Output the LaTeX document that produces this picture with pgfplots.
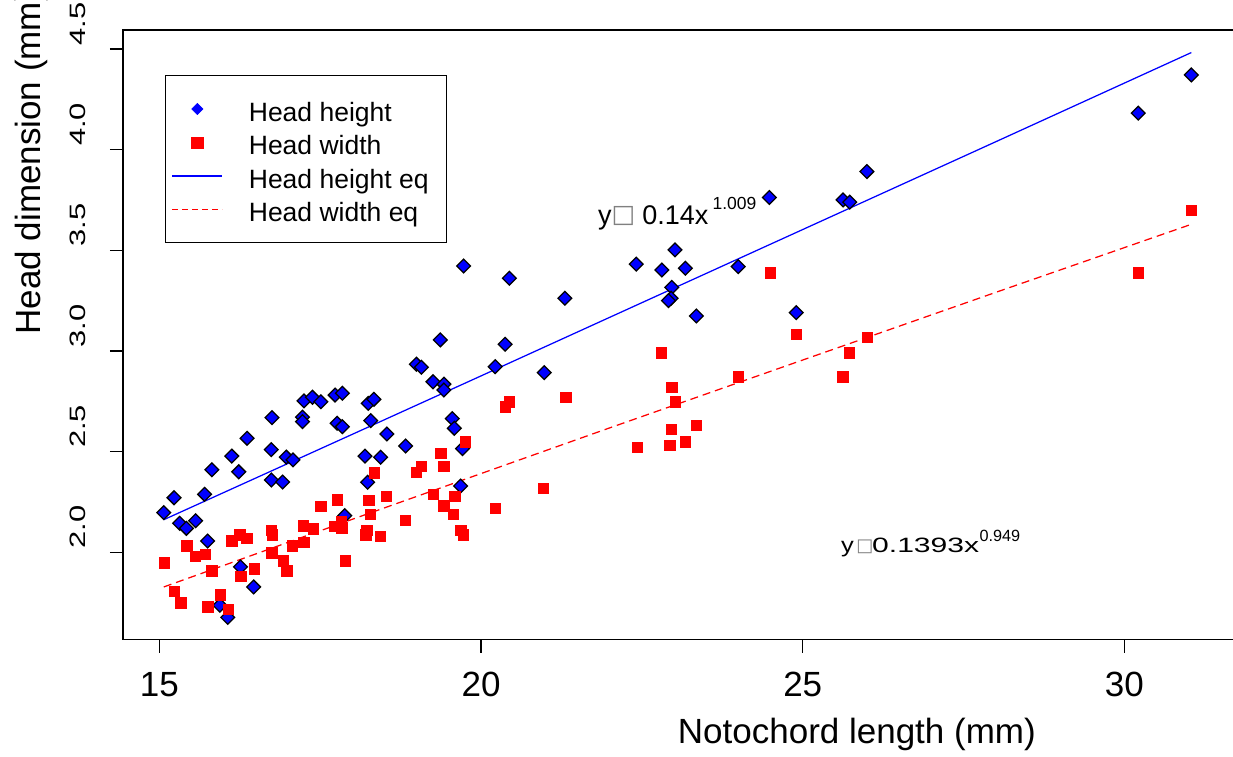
\documentclass[border=0pt]{standalone}
\usepackage{fontspec}
\setmainfont{Liberation Sans}
\newfontfamily\dejavu{DejaVu Sans}
\usepackage{pgfplots}
\usepackage{pgfplotstable}
\pgfplotsset{compat=1.18}

\pgfplotstableread{
x y
15.070 2.197
15.229 2.271
15.317 2.144
15.421 2.119
15.565 2.157
15.704 2.288
15.751 2.056
15.817 2.410
15.941 1.737
16.065 1.677
16.127 2.478
16.235 2.400
16.262 1.928
16.365 2.566
16.467 1.828
16.752 2.669
16.741 2.510
16.741 2.359
16.916 2.349
16.974 2.473
17.077 2.459
17.226 2.671
17.226 2.649
17.248 2.752
17.381 2.770
17.511 2.748
17.732 2.781
17.845 2.790
17.763 2.641
17.845 2.624
17.882 2.182
18.248 2.740
18.336 2.760
18.285 2.654
18.197 2.478
18.238 2.348
18.440 2.472
18.537 2.588
18.827 2.528
18.997 2.934
19.074 2.919
19.254 2.847
19.368 3.055
19.424 2.835
19.424 2.806
19.554 2.664
19.585 2.616
19.714 2.515
19.683 2.329
19.729 3.422
20.220 2.922
20.375 3.033
20.441 3.361
20.983 2.892
21.303 3.262
22.412 3.431
22.810 3.402
23.015 3.502
23.176 3.411
22.964 3.316
22.954 3.262
22.913 3.250
23.347 3.174
23.997 3.419
24.482 3.762
24.899 3.190
25.627 3.750
25.731 3.739
25.998 3.891
30.214 4.181
31.040 4.371
}\heightdata

\pgfplotstableread{
x y
15.074 1.948
15.229 1.808
15.328 1.751
15.421 2.033
15.557 1.982
15.709 1.990
15.813 1.909
15.755 1.730
15.944 1.791
16.068 1.718
16.127 2.059
16.251 2.088
16.359 2.070
16.265 1.881
16.474 1.919
16.737 2.111
16.754 2.089
16.746 1.999
16.924 1.959
16.981 1.909
17.063 2.034
17.232 2.132
17.240 2.050
17.392 2.117
17.508 2.230
17.763 2.261
17.724 2.131
17.836 2.123
17.825 2.152
17.887 1.958
18.336 2.396
18.251 2.260
18.279 2.189
18.220 2.111
18.209 2.088
18.429 2.081
18.529 2.279
18.820 2.160
18.994 2.397
19.071 2.429
19.373 2.492
19.420 2.429
19.252 2.289
19.416 2.231
19.590 2.280
19.563 2.189
19.687 2.111
19.724 2.089
19.755 2.549
20.220 2.219
20.375 2.723
20.438 2.748
20.967 2.319
21.313 2.770
22.427 2.522
22.799 2.992
22.964 2.820
23.015 2.748
22.954 2.611
22.929 2.533
23.170 2.549
23.347 2.632
23.997 2.872
24.492 3.389
24.895 3.083
25.622 2.872
25.724 2.992
25.998 3.068
30.214 3.389
31.040 3.700
}\widthdata

\begin{document}
\begin{tikzpicture}
\begin{axis}[
  name=ax, at={(0,0)}, anchor=south west,
  scale only axis, width=446.8pt, height=243.8pt,
  xmin=14.436, xmax=31.796, ymin=1.567, ymax=4.594,
  axis line style={line width=0.6pt},
  xtick={15,20,25,30}, xticklabels={15,20,25,30},
  ytick={2,2.5,3,3.5,4,4.5}, yticklabels={2.0,2.5,3.0,3.5,4.0,4.5},
  xtick pos=bottom, ytick pos=left,
  tick align=outside, major tick length=5.2pt,
  tick style={line width=0.5pt, black},
  xticklabel style={yshift=-17.4pt, font=\fontsize{14}{14}\selectfont, anchor=base, inner sep=0pt},
  yticklabel style={xshift=-9.6pt, yshift=1.2pt, font=\fontsize{8.9}{9}\selectfont, anchor=base west, rotate=90, xscale=1.39, inner sep=0pt},
  every axis x label/.style={at={(axis description cs:0.657,-0.1703)}, anchor=base, inner sep=0pt, font=\fontsize{14}{14}\selectfont},
  every axis y label/.style={at={(axis description cs:-0.0743,0.4996)}, rotate=90, anchor=base west, inner sep=0pt, font=\fontsize{14}{14}\selectfont},
  xlabel={Notochord length (mm)},
  ylabel={Head dimension (mm)},
  legend cell align=left,
  legend style={at={(rel axis cs:0.0376,0.9262)}, anchor=north west, draw=black, line width=0.5pt, fill=white,
    inner xsep=7.2pt, inner ysep=6.65pt, row sep=0pt, column sep=0pt,
    font=\fontsize{10.6}{12}\selectfont,
    nodes={inner sep=0pt, text height=11.7pt, text depth=1.7pt}},
]
\addplot[only marks, mark=square*, mark size=1.95pt,
  mark options={rotate=45, fill=blue, draw=black, line width=0.5pt}, forget plot]
  table[x=x, y=y] {\heightdata};
\addplot[only marks, mark=square*, mark size=2.1pt,
  mark options={fill=red, draw=red, line width=0.1pt}, forget plot]
  table[x=x, y=y] {\widthdata};
\addplot[blue, line width=0.5pt, forget plot] coordinates {
  (15.07,2.162) (18,2.586) (20,2.876) (22,3.167) (25,3.603) (28,4.039) (31.04,4.482)};
\addplot[red, line width=0.5pt, dash pattern=on 3.2pt off 2pt, forget plot] coordinates {
  (15.07,1.828) (18,2.164) (20,2.391) (22,2.618) (25,2.955) (28,3.291) (31.04,3.629)};

\addlegendimage{legend image code/.code={
  \path[draw=none, fill=none] (0pt,-2pt) rectangle (26.1pt,2pt);
  \path[draw=blue, fill=blue, line width=0.2pt] plot[mark=square*, mark size=1.6pt, mark options={rotate=45, draw=blue, fill=blue}] coordinates {(5.5pt,0pt)};}}
\addlegendentry{Head height}
\addlegendimage{legend image code/.code={
  \path[draw=none, fill=none] (0pt,-2pt) rectangle (26.1pt,2pt);
  \path[draw=red, fill=red, line width=0.1pt] plot[mark=square*, mark size=2.3pt, mark options={draw=red, fill=red}] coordinates {(5.5pt,0pt)};}}
\addlegendentry{Head width}
\addlegendimage{legend image code/.code={
  \path[draw=none, fill=none] (0pt,-2pt) rectangle (26.1pt,2pt);
  \path[draw=blue, line width=0.5pt, overlay] (-4.5pt,0pt) -- (15.5pt,0pt);}}
\addlegendentry{Head height eq}
\addlegendimage{legend image code/.code={
  \path[draw=none, fill=none] (0pt,-2pt) rectangle (26.1pt,2pt);
  \path[draw=red, line width=0.65pt, dash pattern=on 2.4pt off 1.6pt, overlay] (-4.5pt,0pt) -- (15.5pt,0pt);}}
\addlegendentry{Head width eq}

\node[anchor=base west, inner sep=0pt, font=\fontsize{10.8}{12}\selectfont] at (axis cs:21.811,3.626) {y};
\node[inner sep=0pt, text=gray, font=\dejavu\fontsize{10}{10}\selectfont] at (axis cs:22.214,3.671) {□};
\node[anchor=base west, inner sep=0pt, font=\fontsize{10.8}{12}\selectfont] at (axis cs:22.500,3.626) {0.14x};
\node[anchor=base west, inner sep=0pt, font=\fontsize{7}{8}\selectfont] at (axis cs:23.591,3.704) {1.009};

\node[anchor=base west, inner sep=0pt, xscale=1.2, font=\fontsize{8.5}{9}\selectfont] at (axis cs:25.588,1.998) {y};
\node[inner sep=0pt, text=gray, font=\dejavu\fontsize{7.2}{8}\selectfont] at (axis cs:25.967,2.025) {□};
\node[anchor=base west, inner sep=0pt, xscale=1.45, font=\fontsize{8.3}{9}\selectfont] at (axis cs:26.068,1.998) {0.1393x};
\node[anchor=base west, inner sep=0pt, font=\fontsize{6.5}{7}\selectfont] at (axis cs:27.740,2.053) {0.949};
\end{axis}
\pgfresetboundingbox
\path[use as bounding box] (ax.south west) ++(-49.2pt,-47pt) rectangle ++(493.2pt,302.8pt);
\end{tikzpicture}
\end{document}
